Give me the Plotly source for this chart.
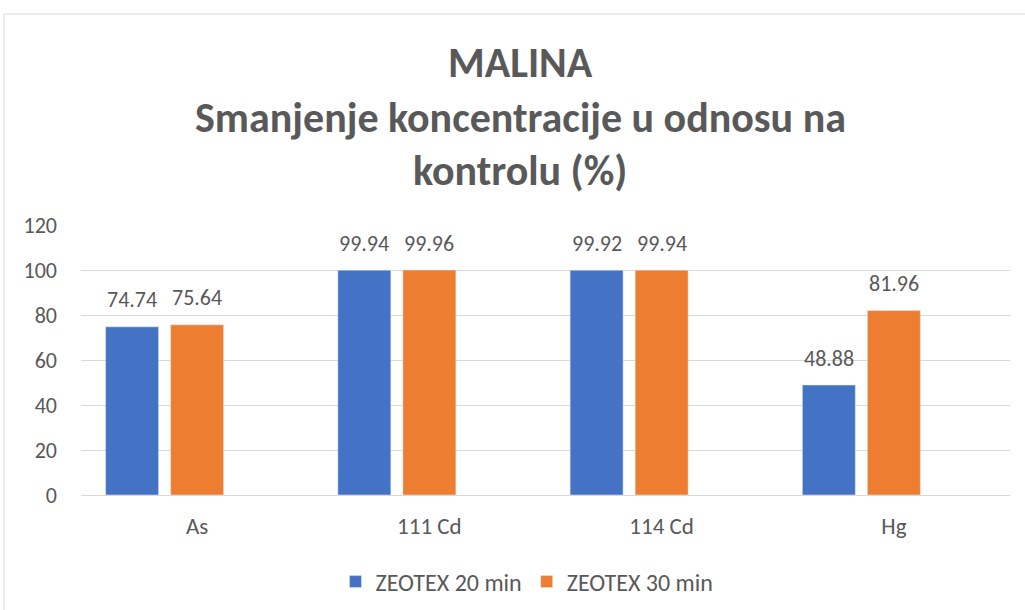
import plotly.graph_objects as go

categories = ["As", "111 Cd", "114 Cd", "Hg"]
zeotex_20 = [74.74, 99.94, 99.92, 48.88]
zeotex_30 = [75.64, 99.96, 99.94, 81.96]
series_names = ["ZEOTEX 20 min", "ZEOTEX 30 min"]
title_lines = ["MALINA", "Smanjenje koncentracije u odnosu na", "kontrolu (%)"]
y_ticks = [0, 20, 40, 60, 80, 100, 120]

FONT = "Calibri, Carlito, Lato, sans-serif"
GRAY = "#595959"

W, H = 1025, 610
L, R, T, B = 81, 15, 225, 115
PW, PH = W - L - R, H - T - B

BARGAP, GROUPGAP, NSLOTS = 0.16, 0.185, 3


def px_to_paper_x(px):
    return (px - L) / PW


def px_to_paper_y(py):
    return (H - B - py) / PH


fig = go.Figure()
fig.add_trace(go.Bar(
    x=categories, y=zeotex_20, name=series_names[0],
    marker=dict(color="#4472C4"),
))
fig.add_trace(go.Bar(
    x=categories, y=zeotex_30, name=series_names[1],
    marker=dict(color="#ED7D31"),
))
# empty third series slot (as in the original chart)
fig.add_trace(go.Bar(
    x=categories, y=[None] * len(categories), showlegend=False, hoverinfo="skip",
))

annotations = []
for line, py in zip(title_lines, [62, 117, 170]):
    annotations.append(dict(
        text=f"<b>{line}</b>", xref="paper", yref="paper",
        x=px_to_paper_x(520), y=px_to_paper_y(py),
        xanchor="center", yanchor="middle", showarrow=False,
        font=dict(family=FONT, size=42, color=GRAY),
    ))

# data labels placed above each bar (slot centres of the grouped bars)
slot = (1 - BARGAP) / NSLOTS
for s_idx, series in enumerate([zeotex_20, zeotex_30]):
    offset = -(1 - BARGAP) / 2 + slot * (s_idx + 0.5)
    for c_idx, v in enumerate(series):
        annotations.append(dict(
            text=f"{v:.2f}", xref="x", yref="y", x=c_idx + offset, y=v,
            xanchor="center", yanchor="middle", yshift=27, showarrow=False,
            font=dict(family=FONT, size=22, color=GRAY),
        ))

fig.update_layout(
    width=W, height=H,
    margin=dict(l=L, r=R, t=T, b=B, autoexpand=False),
    paper_bgcolor="white", plot_bgcolor="white",
    barmode="group", bargap=BARGAP, bargroupgap=GROUPGAP,
    annotations=annotations,
    legend=dict(
        orientation="h", x=px_to_paper_x(527), y=px_to_paper_y(582),
        xanchor="center", yanchor="middle",
        font=dict(family=FONT, size=24, color=GRAY),
        itemwidth=30,
    ),
    shapes=[dict(
        type="rect", xref="paper", yref="paper",
        x0=px_to_paper_x(4), x1=px_to_paper_x(1040),
        y0=px_to_paper_y(640), y1=px_to_paper_y(14),
        line=dict(color="#d9d9d9", width=1), layer="below",
    )],
    xaxis=dict(
        showgrid=False, showline=True, linecolor="#d9d9d9", linewidth=1,
        tickfont=dict(family=FONT, size=23, color=GRAY),
        ticks="", ticklabelstandoff=10,
    ),
    yaxis=dict(
        range=[0, 120], tickvals=y_ticks, showgrid=True, gridcolor="#d9d9d9",
        gridwidth=1, zeroline=False, showline=False,
        tickfont=dict(family=FONT, size=22, color=GRAY),
        ticks="", ticklabelstandoff=23,
    ),
)

fig.write_html("out.html", config={"displayModeBar": False},
               post_script="document.body.style.margin='0';")
